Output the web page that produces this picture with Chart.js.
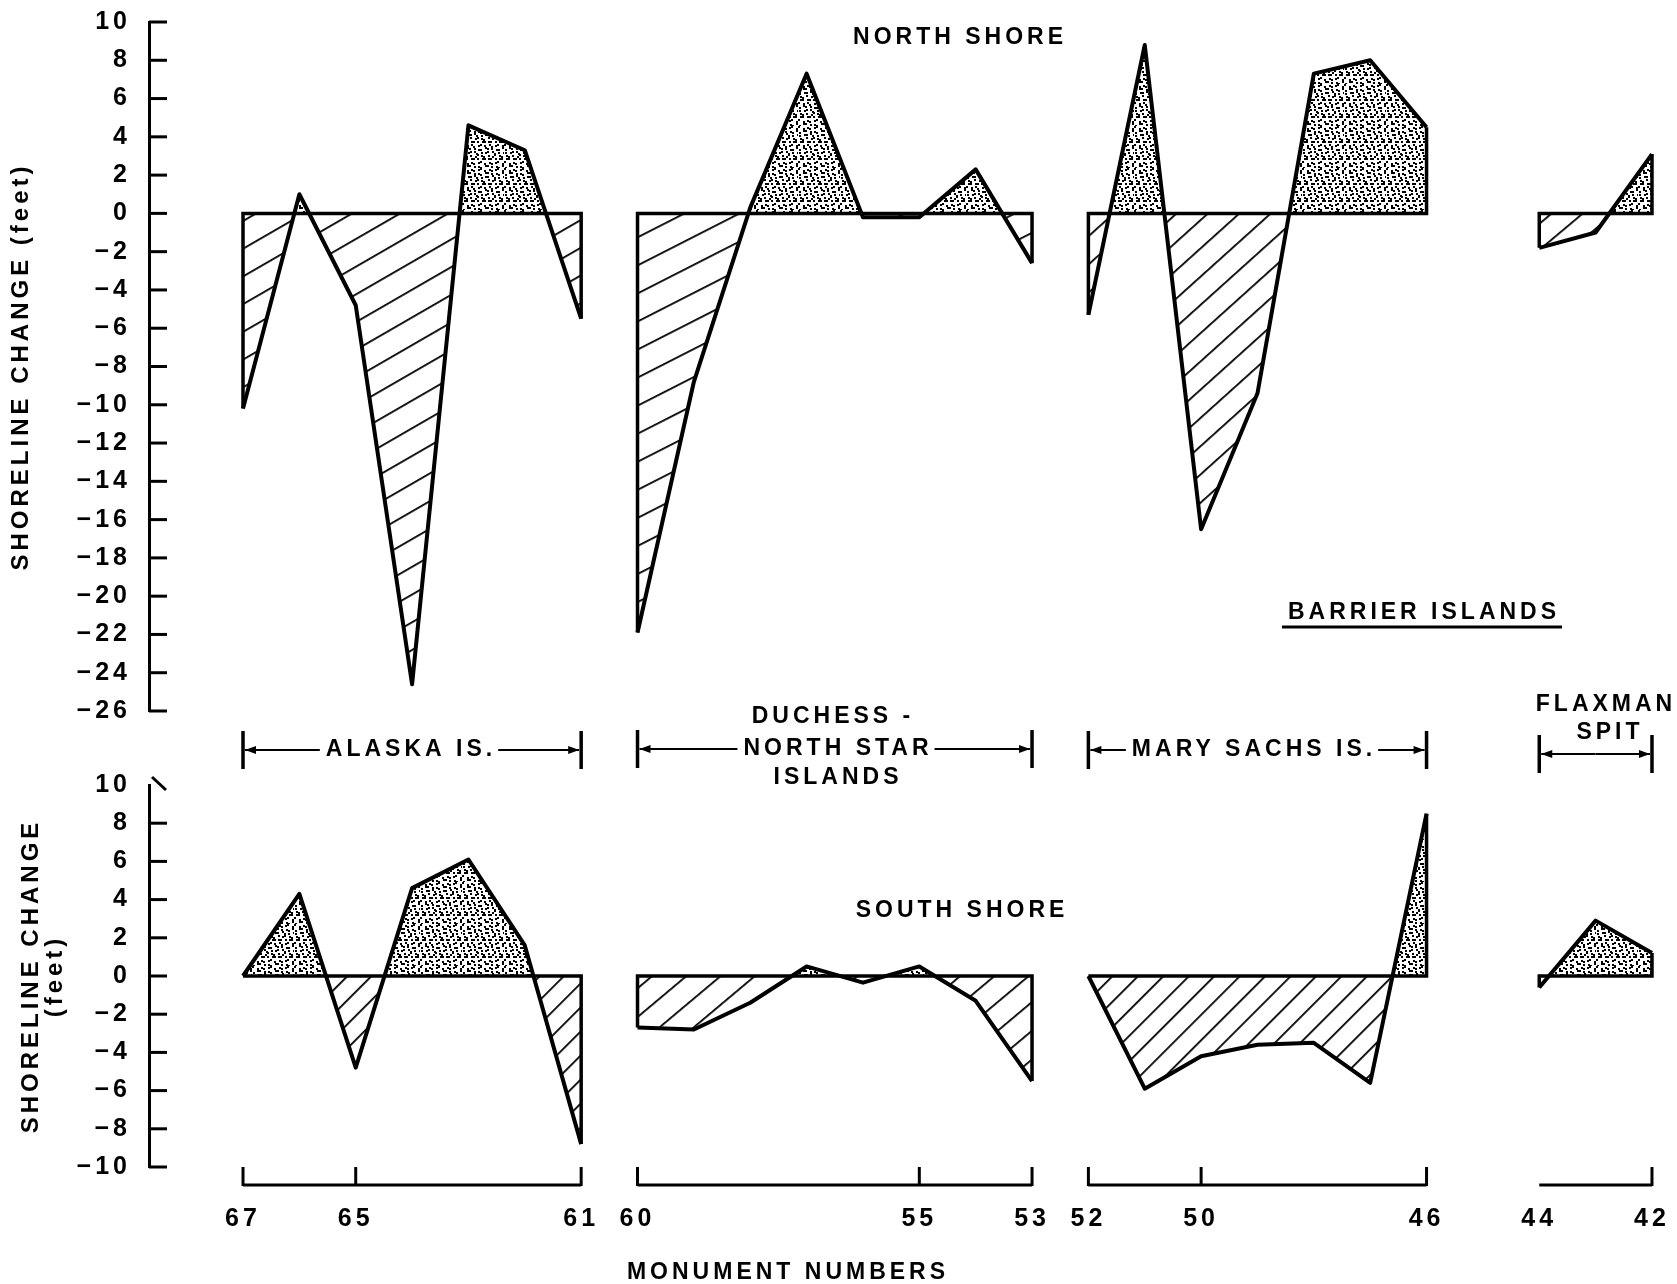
<!DOCTYPE html>
<html>
<head>
<meta charset="utf-8">
<title>Shoreline change, barrier islands</title>
<script src="https://cdn.jsdelivr.net/npm/chart.js@4.4.1/dist/chart.umd.min.js"></script>
<style>
  html, body { margin: 0; padding: 0; background: #fff; }
  #wrap { position: relative; width: 1677px; height: 1284px; }
  #wrap canvas { position: absolute; left: 0; top: 0; }
</style>
</head>
<body>
<div id="wrap">
  <canvas id="northChart" width="1677" height="1284"></canvas>
  <canvas id="southChart" width="1677" height="1284"></canvas>
</div>
<script>
// monument numbers of each island, left (67) to right (42)
const alaskaMonuments = [67, 66, 65, 64, 63, 62, 61];
const duchessMonuments = [60, 59, 58, 57, 56, 55, 54, 53];
const marySachsMonuments = [52, 51, 50, 49, 48, 47, 46];
const flaxmanMonuments = [44, 43, 42];

// shoreline change (feet), north shore
const alaskaNorth = [-10.2, 1.0, -4.8, -24.6, 4.6, 3.3, -5.5];
const duchessNorth = [-21.9, -8.8, 0.3, 7.3, -0.2, -0.2, 2.3, -2.6];
const marySachsNorth = [-5.3, 8.8, -16.5, -9.4, 7.3, 8.0, 4.5];
const flaxmanNorth = [-1.8, -1.0, 3.1];

// shoreline change (feet), south shore
const alaskaSouth = [0, 4.3, -4.8, 4.6, 6.1, 1.6, -8.8];
const duchessSouth = [-2.7, -2.8, -1.4, 0.5, -0.35, 0.5, -1.3, -5.5];
const marySachsSouth = [0, -5.9, -4.2, -3.6, -3.5, -5.6, 8.5];
const flaxmanSouth = [-0.6, 2.9, 1.2];

// labelled monuments on the bottom axis
const monumentTicks = [67, 65, 61, 60, 55, 53, 52, 50, 46, 44, 42];

const INK = '#000';
const FAMILY = '"Liberation Sans", Arial, sans-serif';
const SPACING = '4px';
const AXIS_X = 149;
const X_MAX = 68.668;   // left edge of plot (axis is reversed)
const X_MIN = 41.769;   // right edge of plot

const tickFont = {family: FAMILY, size: 25, weight: 'bold'};
const minus = v => (v < 0 ? '\u2212' + Math.abs(v) : String(v));

function makeHatch(angle, gap) {
    const tile = document.createElement('canvas');
    tile.width = 8;
    tile.height = gap;
    const c = tile.getContext('2d');
    c.fillStyle = INK;
    c.fillRect(0, 0, 8, 1.8);
    const p = c.createPattern(tile, 'repeat');
    p.setTransform(new DOMMatrix().rotate(-angle));
    return p;
}

// irregular dot texture for the accretion areas
function makeStipple() {
    const tile = document.createElement('canvas');
    const n = 12, step = 3.5;
    tile.width = tile.height = n * step;
    const c = tile.getContext('2d');
    c.fillStyle = INK;
    for (let i = 0; i < n; i++) {
        for (let j = 0; j < n; j++) {
            const ox = ((i * 37 + j * 11 + i * j * 5) % 5) - 2;
            const oy = ((i * 13 + j * 29 + i * j * 3) % 5) - 2;
            const x = Math.round(i * step + 1 + ox * 0.5);
            const y = Math.round(j * step + 1 + oy * 0.5);
            c.fillRect(x, y, 2, 2);
        }
    }
    return c.createPattern(tile, 'repeat');
}

const stipple = makeStipple();

// one island = filled profile + baseline with end verticals
function islandDatasets(monuments, values, hatchAngle, hatchGap) {
    const first = monuments[0];
    const last = monuments[monuments.length - 1];
    return [
        {
            data: monuments.map((m, i) => ({x: m, y: values[i]})),
            borderColor: INK,
            borderWidth: 4,
            borderJoinStyle: 'round',
            pointRadius: 0,
            tension: 0,
            order: 1,
            fill: {target: 'origin', above: stipple, below: makeHatch(hatchAngle, hatchGap)}
        },
        {
            data: [
                {x: first, y: values[0]}, {x: first, y: 0},
                {x: last, y: 0}, {x: last, y: values[values.length - 1]}
            ],
            borderColor: INK,
            borderWidth: 3.5,
            pointRadius: 0,
            order: 0,
            fill: false
        }
    ];
}

// y-axis ticks point into the plot
const inwardTicks = {
    id: 'inwardTicks',
    beforeDraw(chart) {
        chart.ctx.letterSpacing = SPACING;
    },
    afterDraw(chart) {
        const {ctx, scales: {y}} = chart;
        ctx.save();
        ctx.strokeStyle = INK;
        ctx.lineWidth = 3;
        y.ticks.forEach(t => {
            const py = y.getPixelForValue(t.value);
            ctx.beginPath();
            if (chart.canvas.id === 'southChart' && t.value === y.max) {
                ctx.moveTo(y.right + 3, py - 8);
                ctx.lineTo(y.right + 17, py + 5);
            } else {
                ctx.moveTo(y.right, py);
                ctx.lineTo(y.right + 18, py);
            }
            ctx.stroke();
        });
        ctx.restore();
    }
};

// island brackets, axis brackets and free labels
const axisGroups = [
    {from: 67, to: 61, marks: [67, 65, 61]},
    {from: 60, to: 53, marks: [60, 55, 53]},
    {from: 52, to: 46, marks: [52, 50, 46]},
    {from: 44, to: 42, marks: [42]}
];
const islandBrackets = [
    {from: 67, to: 61, y: 750, text: 'ALASKA IS.', tx: 409},
    {from: 60, to: 53, y: 749, text: 'NORTH STAR', tx: 836},
    {from: 52, to: 46, y: 750, text: 'MARY SACHS IS.', tx: 1252},
    {from: 44, to: 42, y: 754, text: null}
];
const freeTexts = [
    {text: 'NORTH SHORE', x: 958, y: 38},
    {text: 'SOUTH SHORE', x: 960, y: 911},
    {text: 'BARRIER ISLANDS', x: 1422, y: 613, underline: true},
    {text: 'DUCHESS -', x: 831, y: 717},
    {text: 'ISLANDS', x: 836, y: 778},
    {text: 'FLAXMAN', x: 1604, y: 705},
    {text: 'SPIT', x: 1608, y: 733},
    {text: 'MONUMENT NUMBERS', x: 786, y: 1273}
];

function arrow(ctx, x1, x2, y) {
    ctx.beginPath();
    ctx.moveTo(x1, y);
    ctx.lineTo(x2, y);
    ctx.stroke();
    const d = Math.sign(x2 - x1);
    ctx.beginPath();
    ctx.moveTo(x2, y);
    ctx.lineTo(x2 - d * 11, y - 4);
    ctx.lineTo(x2 - d * 11, y + 4);
    ctx.closePath();
    ctx.fill();
}

const annotations = {
    id: 'annotations',
    afterDraw(chart) {
        const {ctx, scales: {x}} = chart;
        const px = v => x.getPixelForValue(v);
        ctx.save();
        ctx.strokeStyle = INK;
        ctx.fillStyle = INK;
        ctx.font = 'bold 23px ' + FAMILY;
        ctx.letterSpacing = SPACING;
        ctx.textAlign = 'center';
        ctx.textBaseline = 'middle';

        // bottom axis brackets
        const base = chart.chartArea.bottom;
        ctx.lineWidth = 3;
        axisGroups.forEach(g => {
            ctx.beginPath();
            ctx.moveTo(px(g.from), base + 18);
            ctx.lineTo(px(g.to), base + 18);
            ctx.stroke();
            g.marks.forEach(m => {
                ctx.beginPath();
                ctx.moveTo(px(m), base);
                ctx.lineTo(px(m), base + 19);
                ctx.stroke();
            });
        });

        // island brackets
        islandBrackets.forEach(b => {
            const x1 = px(b.from);
            const x2 = px(b.to);
            ctx.lineWidth = 3.5;
            [x1, x2].forEach(xx => {
                ctx.beginPath();
                ctx.moveTo(xx, b.y - 19);
                ctx.lineTo(xx, b.y + 19);
                ctx.stroke();
            });
            ctx.lineWidth = 2;
            if (b.text) {
                const w = ctx.measureText(b.text).width;
                ctx.fillText(b.text, b.tx + 2, b.y);
                arrow(ctx, b.tx - w / 2 - 4, x1 + 2, b.y);
                arrow(ctx, b.tx + w / 2 + 4, x2 - 2, b.y);
            } else {
                const mid = (x1 + x2) / 2;
                arrow(ctx, mid, x1 + 2, b.y);
                arrow(ctx, mid, x2 - 2, b.y);
            }
        });

        freeTexts.forEach(t => {
            ctx.fillText(t.text, t.x + 2, t.y);
            if (t.underline) {
                const w = ctx.measureText(t.text).width;
                ctx.lineWidth = 3;
                ctx.beginPath();
                ctx.moveTo(t.x - w / 2 - 4, t.y + 14);
                ctx.lineTo(t.x + w / 2 + 4, t.y + 14);
                ctx.stroke();
            }
        });
        ctx.restore();
    }
};

function panelOptions(isNorth) {
    return {
        responsive: false,
        animation: false,
        devicePixelRatio: 1,
        events: [],
        layout: {
            padding: isNorth
                ? {left: 0, right: 12, top: 22, bottom: 573}
                : {left: 0, right: 12, top: 785, bottom: 0}
        },
        plugins: {legend: {display: false}, tooltip: {enabled: false}},
        scales: {
            x: {
                type: 'linear',
                reverse: true,
                min: X_MIN,
                max: X_MAX,
                display: !isNorth,
                grid: {display: false, drawTicks: false},
                border: {display: false},
                afterBuildTicks: s => { s.ticks = monumentTicks.map(v => ({value: v})); },
                ticks: {autoSkip: false, maxRotation: 0, padding: 37, font: tickFont, color: INK,
                        callback: v => String(v)},
                afterFit: s => {
                    s.height = isNorth ? 0 : 117;
                    s.paddingLeft = 0;
                    s.paddingRight = 0;
                }
            },
            y: {
                type: 'linear',
                min: isNorth ? -26 : -10,
                max: 10,
                grid: {display: false, drawTicks: false},
                border: {display: true, color: INK, width: 3},
                ticks: {stepSize: 2, autoSkip: false, padding: 18, font: tickFont, color: INK,
                        callback: minus},
                title: {
                    display: true,
                    text: isNorth ? 'SHORELINE CHANGE (feet)' : ['SHORELINE CHANGE', '(feet)'],
                    color: INK,
                    font: {family: FAMILY, size: 24, weight: 'bold', lineHeight: isNorth ? 1.2 : 1.0},
                    padding: {top: isNorth ? 7 : 19, bottom: 0}
                },
                afterFit: s => { s.width = AXIS_X; s.paddingTop = 0; s.paddingBottom = 0; }
            }
        }
    };
}

new Chart(document.getElementById('northChart'), {
    type: 'line',
    data: {
        datasets: [
            ...islandDatasets(alaskaMonuments, alaskaNorth, 30, 24),
            ...islandDatasets(duchessMonuments, duchessNorth, 27, 25),
            ...islandDatasets(marySachsMonuments, marySachsNorth, 42, 21),
            ...islandDatasets(flaxmanMonuments, flaxmanNorth, 40, 20)
        ]
    },
    options: panelOptions(true),
    plugins: [inwardTicks]
});

new Chart(document.getElementById('southChart'), {
    type: 'line',
    data: {
        datasets: [
            ...islandDatasets(alaskaMonuments, alaskaSouth, 45, 17),
            ...islandDatasets(duchessMonuments, duchessSouth, 40, 22),
            ...islandDatasets(marySachsMonuments, marySachsSouth, 45, 18),
            ...islandDatasets(flaxmanMonuments, flaxmanSouth, 45, 17)
        ]
    },
    options: panelOptions(false),
    plugins: [inwardTicks, annotations]
});
</script>
</body>
</html>
